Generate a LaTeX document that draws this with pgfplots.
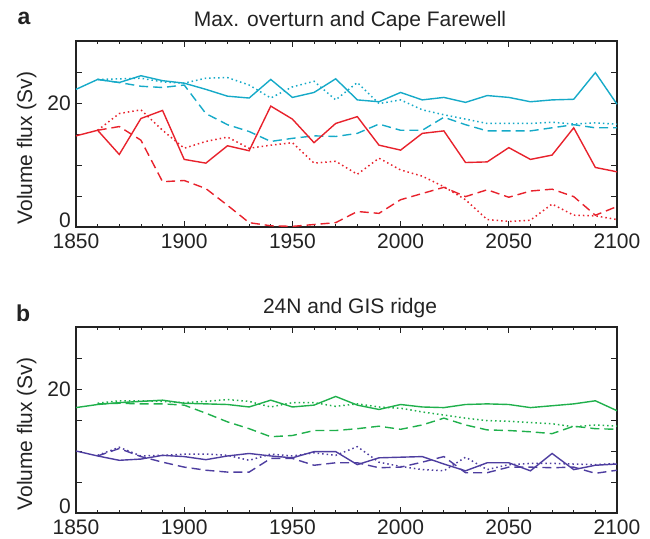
\documentclass[border=0pt]{standalone}
\usepackage{pgfplots}
\pgfplotsset{compat=1.18}
\usepackage{fontspec}
\setmainfont{Liberation Sans}
\definecolor{ccyan}{RGB}{22,170,200}
\definecolor{cred}{RGB}{232,34,44}
\definecolor{cgreen}{RGB}{32,176,76}
\definecolor{cpurple}{RGB}{78,62,160}
\definecolor{axgray}{RGB}{35,35,35}
\pgfplotsset{
  panel/.style={
    scale only axis, width=541pt, height=186pt,
    xmin=1850, xmax=2100, ymin=0, ymax=30, clip=false,
    xtick={1850,1900,...,2100}, minor xtick={1860,1870,...,2090},
    ytick={5,10,...,30}, yticklabels={,,,20,,},
    extra y ticks={0},
    extra y tick style={yticklabel style={yshift=7pt}},
    /pgf/number format/1000 sep={},
    /pgf/number format/assume math mode=true,
    tick label style={font=\fontsize{21}{25}\selectfont, text=axgray, inner sep=2pt},
    xticklabel style={yshift=-5pt},
    yticklabel style={xshift=-3pt},
    label style={font=\fontsize{21}{25}\selectfont, text=axgray},
    title style={font=\fontsize{21}{25}\selectfont, text=axgray, anchor=base},
    ylabel={Volume flux (Sv)},
    ylabel style={at={(axis description cs:-0.0813,0.425)}, anchor=base},
    major tick length=6pt, minor tick length=3pt,
    tick style={axgray, line width=0.8pt},
    axis line style={axgray, line width=1.1pt},
  },
  sol/.style={line width=1.4pt, solid},
  dsh/.style={line width=1.4pt, dash pattern=on 9pt off 5pt},
  dot/.style={line width=1.5pt, dash pattern=on 1.5pt off 3pt},
}
\begin{document}
\begin{tikzpicture}
\useasboundingbox (0,0) rectangle (650pt,538pt);
% ---------------- panel a ----------------
\begin{axis}[panel, at={(76pt,311pt)}, anchor=south west,
  title={Max. overturn and Cape Farewell},
  title style={at={(axis description cs:0.5065,1.043)}}]
\node[anchor=base west, font=\fontsize{23}{27}\selectfont\bfseries, text=axgray] at (axis description cs:-0.1146,1.086) {a};
% cyan solid
\addplot[ccyan, sol] coordinates {
(1850,22.2)(1860,23.8)(1870,23.3)(1880,24.4)(1890,23.6)(1900,23.2)(1910,22.2)(1920,21.1)(1930,20.8)
(1940,23.8)(1950,20.9)(1960,21.7)(1970,23.9)(1980,20.5)(1990,20.2)(2000,21.7)(2010,20.5)(2020,20.9)
(2030,20.1)(2040,21.2)(2050,20.9)(2060,20.2)(2070,20.5)(2080,20.6)(2090,24.9)(2100,19.8)};
% cyan dotted
\addplot[ccyan, dot] coordinates {
(1860,23.8)(1870,23.9)(1880,24.0)(1890,23.4)(1900,23.2)(1910,24.0)(1920,24.1)(1930,22.9)
(1940,20.8)(1950,22.6)(1960,23.5)(1970,20.5)(1980,23.3)(1990,19.9)(2000,20.5)(2010,18.9)(2020,18.1)
(2030,17.4)(2040,16.7)(2050,16.7)(2060,16.7)(2070,16.9)(2080,16.6)(2090,16.8)(2100,16.6)};
% cyan dashed
\addplot[ccyan, dsh] coordinates {
(1860,23.8)(1870,23.3)(1880,22.7)(1890,22.5)(1900,22.9)(1910,18.3)(1920,16.5)(1930,15.4)
(1940,13.8)(1950,14.3)(1960,14.7)(1970,14.6)(1980,15.1)(1990,16.6)(2000,15.6)(2010,15.6)(2020,17.7)
(2030,16.5)(2040,15.5)(2050,15.5)(2060,15.5)(2070,16.0)(2080,16.5)(2090,16.0)(2100,16.0)};
% red solid
\addplot[cred, sol] coordinates {
(1850,14.7)(1860,15.6)(1870,11.7)(1880,17.5)(1890,18.8)(1900,10.9)(1910,10.3)(1920,13.1)(1930,12.3)
(1940,19.5)(1950,17.4)(1960,13.6)(1970,16.7)(1980,17.8)(1990,13.2)(2000,12.4)(2010,15.1)(2020,15.5)
(2030,10.4)(2040,10.5)(2050,12.8)(2060,10.9)(2070,11.6)(2080,16.0)(2090,9.6)(2100,8.9)};
% red dotted
\addplot[cred, dot] coordinates {
(1860,15.6)(1870,18.3)(1880,18.9)(1890,15.6)(1900,12.7)(1910,13.8)(1920,14.5)(1930,12.7)
(1940,13.2)(1950,13.6)(1960,10.3)(1970,10.6)(1980,8.5)(1990,11.1)(2000,9.2)(2010,8.2)(2020,6.5)
(2030,4.4)(2040,1.2)(2050,0.9)(2060,1.1)(2070,3.7)(2080,1.9)(2090,1.8)(2100,1.2)};
% red dashed
\addplot[cred, dsh] coordinates {
(1860,15.6)(1870,16.2)(1880,14.0)(1890,7.3)(1900,7.5)(1910,6.2)(1920,3.5)(1930,0.7)
(1940,0.2)(1950,0.1)(1960,0.4)(1970,0.7)(1980,2.5)(1990,2.2)(2000,4.4)(2010,5.4)(2020,6.4)
(2030,4.9)(2040,6.0)(2050,4.8)(2060,5.8)(2070,6.1)(2080,4.9)(2090,1.9)(2100,3.3)};
\end{axis}
% ---------------- panel b ----------------
\begin{axis}[panel, at={(76pt,25pt)}, anchor=south west,
  title={24N and GIS ridge},
  title style={at={(axis description cs:0.5065,1.038)}}]
\node[anchor=base west, font=\fontsize{23}{27}\selectfont\bfseries, text=axgray] at (axis description cs:-0.117,1.027) {b};
% green solid
\addplot[cgreen, sol] coordinates {
(1850,17.0)(1860,17.5)(1870,17.8)(1880,18.0)(1890,18.2)(1900,17.7)(1910,17.6)(1920,17.5)(1930,17.1)
(1940,18.2)(1950,17.1)(1960,17.4)(1970,18.8)(1980,17.4)(1990,16.7)(2000,17.5)(2010,17.1)(2020,17.0)
(2030,17.5)(2040,17.6)(2050,17.5)(2060,17.0)(2070,17.3)(2080,17.6)(2090,18.1)(2100,16.5)};
% green dotted
\addplot[cgreen, dot] coordinates {
(1860,17.7)(1870,18.1)(1880,18.1)(1890,18.0)(1900,17.8)(1910,18.0)(1920,18.3)(1930,18.0)
(1940,17.1)(1950,17.8)(1960,17.8)(1970,17.2)(1980,17.6)(1990,17.1)(2000,16.9)(2010,16.3)(2020,15.8)
(2030,15.3)(2040,14.9)(2050,14.8)(2060,14.6)(2070,14.4)(2080,13.9)(2090,14.2)(2100,14.0)};
% green dashed
\addplot[cgreen, dsh] coordinates {
(1860,17.6)(1870,17.7)(1880,17.6)(1890,17.6)(1900,17.4)(1910,16.1)(1920,14.7)(1930,13.6)
(1940,12.3)(1950,12.5)(1960,13.3)(1970,13.3)(1980,13.6)(1990,14.0)(2000,13.5)(2010,14.2)(2020,15.3)
(2030,14.2)(2040,13.4)(2050,13.3)(2060,13.1)(2070,12.8)(2080,14.0)(2090,13.6)(2100,13.5)};
% purple solid
\addplot[cpurple, sol] coordinates {
(1850,10.0)(1860,9.2)(1870,8.5)(1880,8.7)(1890,9.3)(1900,9.1)(1910,8.6)(1920,9.2)(1930,9.6)
(1940,9.2)(1950,8.9)(1960,9.9)(1970,9.9)(1980,7.8)(1990,8.9)(2000,9.0)(2010,9.1)(2020,7.9)
(2030,6.8)(2040,8.1)(2050,8.1)(2060,6.8)(2070,9.6)(2080,7.0)(2090,7.7)(2100,7.9)};
% purple dotted
\addplot[cpurple, dot] coordinates {
(1860,9.3)(1870,10.6)(1880,9.2)(1890,9.3)(1900,9.5)(1910,9.5)(1920,9.3)(1930,8.5)
(1940,9.5)(1950,9.2)(1960,9.7)(1970,9.3)(1980,10.7)(1990,8.2)(2000,7.5)(2010,7.0)(2020,6.8)
(2030,9.0)(2040,7.0)(2050,7.8)(2060,8.0)(2070,8.0)(2080,7.9)(2090,7.8)(2100,8.0)};
% purple dashed
\addplot[cpurple, dsh] coordinates {
(1860,9.2)(1870,10.4)(1880,9.1)(1890,8.2)(1900,7.4)(1910,6.9)(1920,6.6)(1930,6.6)
(1940,8.8)(1950,8.8)(1960,7.7)(1970,8.1)(1980,8.1)(1990,7.3)(2000,7.4)(2010,8.2)(2020,9.1)
(2030,6.5)(2040,6.5)(2050,7.4)(2060,7.4)(2070,7.3)(2080,7.4)(2090,6.4)(2100,6.9)};
\end{axis}
\end{tikzpicture}
\end{document}
